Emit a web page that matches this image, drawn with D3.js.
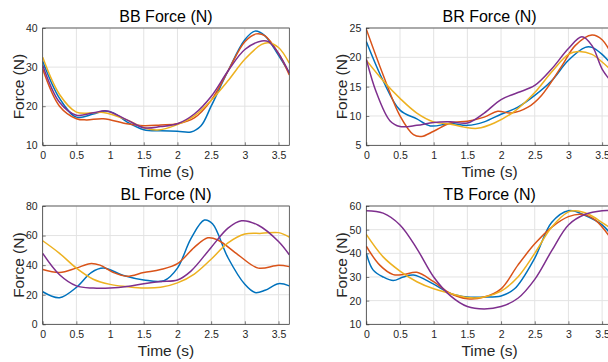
<!DOCTYPE html>
<html>
<head>
<meta charset="utf-8">
<script src="https://cdn.jsdelivr.net/npm/d3@7"></script>
<style>
  body { margin: 0; background: #fff; }
  svg { display: block; font-family: "Liberation Sans", Arial, sans-serif; }
</style>
</head>
<body>
<svg id="chart" width="608" height="362"></svg>
<script>
// series colours (MATLAB default order)
const colors = ["#0072BD", "#D95319", "#EDB120", "#7E2F8E"];

const xTicks = [0, 0.5, 1, 1.5, 2, 2.5, 3, 3.5];
const xTickLabels = ["0", "0.5", "1", "1.5", "2", "2.5", "3", "3.5"];

/**** BB ****/
const bbBlue = [[0,31.5],[0.25,22],[0.5,17.2],[0.75,18],[0.92,18.8],[1.05,18.3],[1.25,16],[1.5,14],[1.75,13.7],[2,13.6],[2.2,13.4],[2.35,15],[2.5,20],[2.75,29],[3,37],[3.15,39.2],[3.3,38],[3.5,33],[3.66,28.5]];
const bbOrange = [[0,29.5],[0.25,20],[0.5,16.8],[0.65,16.5],[0.9,16.8],[1.25,15.5],[1.5,15],[1.75,15.2],[2,15.5],[2.25,17],[2.5,21.5],[2.75,29],[3,36.5],[3.17,38.5],[3.3,38],[3.5,33.5],[3.66,28]];
const bbYellow = [[0,32.5],[0.25,23],[0.5,18.5],[0.75,18.3],[0.9,18.4],[1.25,16.5],[1.5,14.5],[1.7,13.9],[2,15.3],[2.25,17.5],[2.5,21.5],[2.75,26.5],[3,32],[3.25,35.8],[3.35,36.2],[3.5,35],[3.66,31]];
const bbPurple = [[0,30.5],[0.25,21],[0.5,17.7],[0.75,18.3],[0.95,18.8],[1.25,16.5],[1.5,14.5],[1.75,14.8],[2,15.5],[2.25,18],[2.5,22.5],[2.75,29],[3,34.5],[3.25,36.7],[3.35,36.5],[3.5,33.5],[3.66,28.5]];

/**** BR ****/
const brBlue = [[0,22.7],[0.25,16],[0.5,11],[0.75,9.5],[0.95,8.3],[1.25,8.7],[1.5,8.4],[1.75,9],[2,10.3],[2.25,11.5],[2.5,13.5],[2.75,16],[3,19.5],[3.25,21.7],[3.35,21.7],[3.5,20.5],[3.66,18.5]];
const brOrange = [[0,24.8],[0.25,17],[0.5,10],[0.7,6.8],[0.82,6.5],[1,7.4],[1.25,8.8],[1.5,9.1],[1.75,9.8],[1.95,10.8],[2.15,10.5],[2.4,11.5],[2.6,13.5],[2.9,18.5],[3.1,22],[3.35,23.8],[3.5,23],[3.66,20]];
const brYellow = [[0,19.5],[0.25,16],[0.5,13],[0.75,10.5],[1,9],[1.25,8.6],[1.45,8.1],[1.65,7.9],[1.9,8.8],[2.2,10.8],[2.5,14],[2.75,17.5],[3,20.5],[3.15,21],[3.35,20.5],[3.5,19.2],[3.66,17.5]];
const brPurple = [[0,19.7],[0.15,14],[0.35,9.2],[0.5,8.2],[0.75,8.4],[1,8.9],[1.25,9],[1.5,8.8],[1.75,10.5],[2,12.8],[2.25,14],[2.5,15.2],[2.75,18],[3,21.5],[3.2,23.5],[3.35,22],[3.5,18],[3.66,15.5]];

/**** BL ****/
const blBlue = [[0,22],[0.25,18],[0.5,25],[0.72,35],[0.9,38],[1.2,33],[1.5,30],[1.8,29.5],[2,38],[2.2,58],[2.4,70.5],[2.52,68],[2.75,45],[3,27],[3.15,21.5],[3.3,23],[3.5,27.5],[3.66,26]];
const blOrange = [[0,37],[0.25,35],[0.5,38],[0.7,41],[0.85,40],[1.05,35],[1.25,32.5],[1.5,35],[1.75,37],[2,41],[2.25,52],[2.45,58.5],[2.6,57],[2.9,47],[3.2,38],[3.5,40],[3.66,39]];
const blYellow = [[0,56.5],[0.25,48],[0.5,38],[0.75,30.5],[1,27],[1.25,25.5],[1.5,24.5],[1.75,25],[2,28],[2.25,34],[2.5,44],[2.75,55],[3,61],[3.25,61.5],[3.5,62],[3.66,59]];
const blPurple = [[0,48],[0.25,33.5],[0.5,26],[0.75,24.5],[1,24.5],[1.25,25.5],[1.5,27.5],[1.75,29],[2,30],[2.2,36],[2.5,52],[2.75,65],[2.95,70],[3.2,67],[3.5,56],[3.66,47]];

/**** TB ****/
const tbBlue = [[0,40],[0.1,33],[0.25,30],[0.4,28.5],[0.55,30],[0.7,30.8],[1,27],[1.25,23],[1.5,21.5],[1.75,21.5],[2,22],[2.2,25],[2.5,38],[2.75,53],[3,58],[3.25,56],[3.5,52],[3.66,47]];
const tbOrange = [[0,43],[0.2,35],[0.4,31],[0.55,31],[0.75,32],[1,28],[1.25,23],[1.5,20.8],[1.75,21.5],[2,25],[2.25,35],[2.5,44],[2.75,51],[3,55.5],[3.2,56.5],[3.4,54],[3.66,45]];
const tbYellow = [[0,48],[0.25,38.5],[0.5,32.5],[0.75,28],[1,25],[1.25,23],[1.5,21.3],[1.75,21.5],[2,24],[2.25,30],[2.5,40],[2.75,51],[3,57.5],[3.1,58],[3.3,56.5],[3.5,53],[3.66,50]];
const tbPurple = [[0,58],[0.25,57],[0.5,52],[0.75,42],[1,30],[1.25,22],[1.5,17.5],[1.75,16.5],[2,17.5],[2.25,21],[2.5,29],[2.75,41],[3,52],[3.25,56.5],[3.5,58],[3.66,58]];

const panels = [
  { title: "BB Force (N)", series: [bbBlue, bbOrange, bbYellow, bbPurple], yDomain: [10, 40], yTicks: [10, 20, 30, 40],
    left: 42.7, top: 28, width: 246.6, height: 117.3 },
  { title: "BR Force (N)", series: [brBlue, brOrange, brYellow, brPurple], yDomain: [5, 25], yTicks: [5, 10, 15, 20, 25],
    left: 366.3, top: 28, width: 246.6, height: 117.3 },
  { title: "BL Force (N)", series: [blBlue, blOrange, blYellow, blPurple], yDomain: [0, 80], yTicks: [0, 20, 40, 60, 80],
    left: 42.7, top: 206, width: 246.6, height: 118.3 },
  { title: "TB Force (N)", series: [tbBlue, tbOrange, tbYellow, tbPurple], yDomain: [10, 60], yTicks: [10, 20, 30, 40, 50, 60],
    left: 366.3, top: 206, width: 246.6, height: 118.3 }
];

const svg = d3.select("#chart");

panels.forEach(function (p, i) {
  const g = svg.append("g").attr("transform", "translate(" + p.left + "," + p.top + ")");
  const x = d3.scaleLinear().domain([0, 3.66]).range([0, p.width]);
  const y = d3.scaleLinear().domain(p.yDomain).range([p.height, 0]);

  // grid
  g.append("g").selectAll("line").data(xTicks).join("line")
    .attr("x1", d => x(d)).attr("x2", d => x(d)).attr("y1", 0).attr("y2", p.height)
    .attr("stroke", "#e3e3e3").attr("stroke-width", 1);
  g.append("g").selectAll("line").data(p.yTicks).join("line")
    .attr("x1", 0).attr("x2", p.width).attr("y1", d => y(d)).attr("y2", d => y(d))
    .attr("stroke", "#e3e3e3").attr("stroke-width", 1);

  // axes
  const xAxis = d3.axisBottom(x).tickValues(xTicks).tickFormat((d, k) => xTickLabels[k]).tickSizeInner(-3).tickSizeOuter(0).tickPadding(6);
  const yAxis = d3.axisLeft(y).tickValues(p.yTicks).tickSizeInner(-3).tickSizeOuter(0).tickPadding(5);
  const gx = g.append("g").attr("transform", "translate(0," + p.height + ")").call(xAxis);
  const gy = g.append("g").call(yAxis);
  [gx, gy].forEach(function (a) {
    a.select(".domain").remove();
    a.selectAll("line").attr("stroke", "#262626").attr("stroke-width", 0.6);
    a.selectAll("text").attr("fill", "#262626").style("font-size", "10.5px")
      .style("font-family", "'Liberation Sans', Arial, sans-serif");
  });

  // clip for the curves
  const clipId = "clip" + i;
  g.append("clipPath").attr("id", clipId).append("rect").attr("width", p.width).attr("height", p.height);

  const line = d3.line().x(d => x(d[0])).y(d => y(d[1])).curve(d3.curveCatmullRom.alpha(0.5));
  g.append("g").attr("clip-path", "url(#" + clipId + ")")
    .selectAll("path").data(p.series).join("path")
    .attr("d", line).attr("fill", "none")
    .attr("stroke", (d, k) => colors[k]).attr("stroke-width", 1.5);

  // box
  g.append("rect").attr("width", p.width).attr("height", p.height)
    .attr("fill", "none").attr("stroke", "#262626").attr("stroke-width", 0.7);

  // title & labels
  g.append("text").attr("x", p.width / 2).attr("y", -6).attr("text-anchor", "middle")
    .attr("fill", "#000").style("font-size", "16px").text(p.title);
  g.append("text").attr("x", p.width / 2).attr("y", p.height + 32).attr("text-anchor", "middle")
    .attr("fill", "#262626").style("font-size", "15.5px").text("Time (s)");
  g.append("text").attr("transform", "translate(-19," + (p.height / 2) + ") rotate(-90)")
    .attr("text-anchor", "middle").attr("fill", "#262626").style("font-size", "15.5px").text("Force (N)");
});
</script>
</body>
</html>
